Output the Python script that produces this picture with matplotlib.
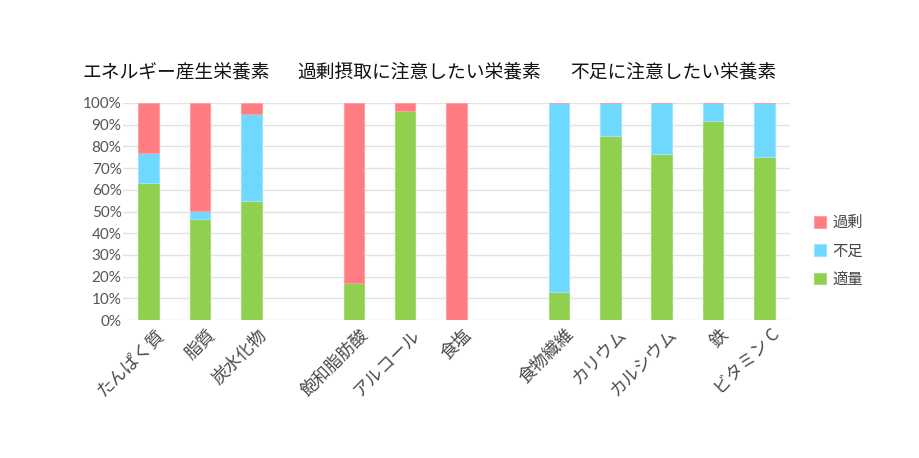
import matplotlib
matplotlib.use("Agg")
import matplotlib.pyplot as plt
import matplotlib.transforms as mtransforms
import numpy as np

plt.rcParams['font.family'] = ['Lato', 'Noto Sans CJK JP', 'DejaVu Sans']

group_titles = ["エネルギー産生栄養素", "過剰摂取に注意したい栄養素", "不足に注意したい栄養素"]
group_cats = [
    ["たんぱく質", "脂質", "炭水化物"],
    ["飽和脂肪酸", "アルコール", "食塩"],
    ["食物繊維", "カリウム", "カルシウム", "鉄", "ビタミン C"],
]
# percentages per category, in the same order as the flattened categories
tekiryo = [63, 46.5, 55, 17, 96.5, 0, 13, 85, 76.5, 91.5, 75]   # 適量
fusoku  = [14, 3.5, 40, 0, 0, 0, 87, 15, 23.5, 8.5, 25]          # 不足
kajo    = [23, 50, 5, 83, 3.5, 100, 0, 0, 0, 0, 0]               # 過剰
yticks = [0, 10, 20, 30, 40, 50, 60, 70, 80, 90, 100]

c_red = "#FF7C81"
c_blue = "#6FD8FF"
c_green = "#8FD04E"

# positions: one empty slot between groups
cats, pos = [], []
p = 0
for g in group_cats:
    for c in g:
        cats.append(c)
        pos.append(p)
        p += 1
    p += 1
nslots = p - 1
pos = np.array(pos)

fig = plt.figure(figsize=(9.2, 4.58), dpi=100)
ax = fig.add_axes([123/920, 1-320/458, 667/920, 217/458])

t = np.array(tekiryo); f = np.array(fusoku); k = np.array(kajo)
w = 0.4
ax.bar(pos, t, w, color=c_green, edgecolor="#A6DA78", linewidth=0.8, label="適量", zorder=3)
ax.bar(pos, f, w, bottom=t, color=c_blue, edgecolor="#9BE3FF", linewidth=0.8, label="不足", zorder=3)
ax.bar(pos, k, w, bottom=t+f, color=c_red, edgecolor="#FF9FA3", linewidth=0.8, label="過剰", zorder=3)

ax.set_xlim(-0.5, nslots - 0.5)
ax.set_ylim(0, 100)
ax.set_yticks(yticks)
ax.set_yticklabels([f"{v}%" for v in yticks], fontsize=11, color="#555555")
ax.yaxis.grid(True, color="#E2E2E2", linewidth=1, zorder=0)
ax.set_axisbelow(True)
for s in ax.spines.values():
    s.set_visible(False)
ax.tick_params(axis='both', length=0)
ax.tick_params(axis='y', pad=1)
ax.set_xticks(pos)
ax.set_xticklabels(cats, rotation=45, ha='right', va='top', rotation_mode='anchor',
                   fontsize=12.5, color="#4A4A4A",
                   family=['Noto Sans CJK JP', 'Lato'])
ax.tick_params(axis='x', pad=4)
offset = mtransforms.ScaledTranslation(6/100, 0, fig.dpi_scale_trans)
for lbl in ax.get_xticklabels():
    lbl.set_transform(lbl.get_transform() + offset)

title_x = [82, 297, 570]
for tx, tt in zip(title_x, group_titles):
    fig.text(tx/920, 1-72/458, tt, fontsize=13.5, ha='left', va='center',
             color="#111111", family=['Noto Sans CJK JP'])

handles, labels = ax.get_legend_handles_labels()
leg = fig.legend(handles[::-1], labels[::-1], loc='center left',
                 bbox_to_anchor=(800/920, 1-251/458), frameon=False,
                 prop={'family': 'Noto Sans CJK JP', 'size': 11},
                 handlelength=0.8, handleheight=0.8, handletextpad=0.4,
                 labelspacing=0.75, labelcolor="#444444")

fig.savefig("out.png", dpi=100)
